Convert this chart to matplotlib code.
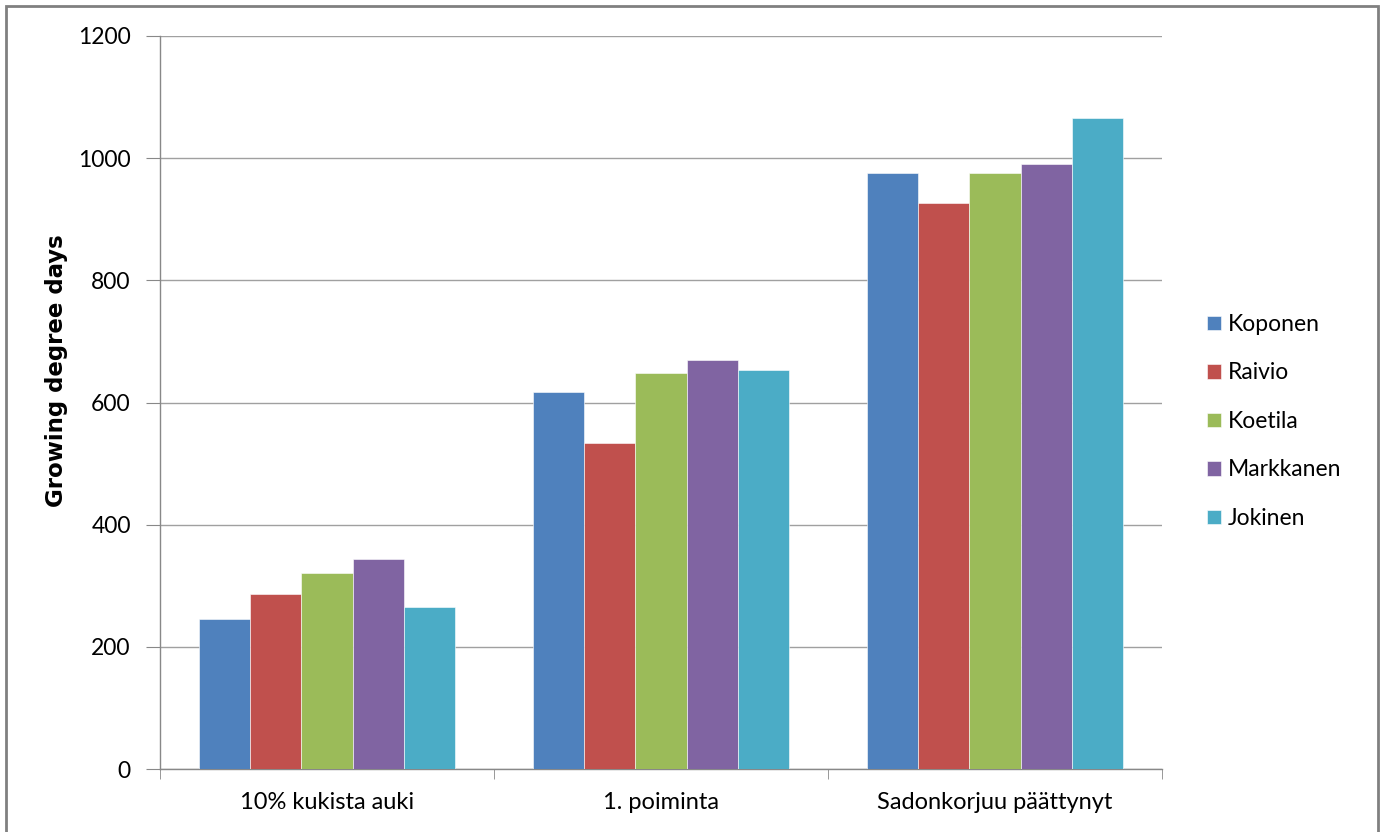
import matplotlib
matplotlib.use("Agg")
import matplotlib.pyplot as plt
import numpy as np
from matplotlib.patches import Rectangle

categories = ["10% kukista auki", "1. poiminta", "Sadonkorjuu päättynyt"]
series_names = ["Koponen", "Raivio", "Koetila", "Markkanen", "Jokinen"]
koponen = [245, 617, 976]
raivio = [286, 533, 926]
koetila = [321, 648, 976]
markkanen = [344, 669, 990]
jokinen = [266, 654, 1066]
colors = ["#4F81BD", "#C0504D", "#9BBB59", "#8064A2", "#4BACC6"]
yticks = [0, 200, 400, 600, 800, 1000, 1200]

plt.rcParams['font.family'] = ['Lato', 'DejaVu Sans']

fig = plt.figure(figsize=(13.84, 8.32), dpi=100)
ax = fig.add_axes([160/1384, 1-769/832, (1162-160)/1384, (769-36)/832])

series = [koponen, raivio, koetila, markkanen, jokinen]
n = len(series)
bw = 1.0 / (n + 1.5)
x = np.arange(len(categories))
handles = []
for i, (vals, c, name) in enumerate(zip(series, colors, series_names)):
    offs = (i - (n - 1) / 2) * bw
    b = ax.bar(x + offs, vals, width=bw, color=c, edgecolor='white', linewidth=0.4,
               label=name, zorder=3)
    handles.append(b)

ax.set_xlim(-0.5, len(categories) - 0.5)
ax.set_ylim(0, 1200)
ax.set_yticks(yticks)
ax.set_yticklabels([str(v) for v in yticks])
ax.yaxis.grid(True, color='#A0A0A0', linewidth=1.0, zorder=0)
ax.set_axisbelow(True)

ax.set_xticks(x)
ax.set_xticklabels(categories)
ax.set_xticks(np.arange(len(categories) + 1) - 0.5, minor=True)
ax.tick_params(axis='x', which='major', length=0, pad=16.5, labelsize=17)
ax.tick_params(axis='x', which='minor', length=7, color='#888888', direction='out')
ax.tick_params(axis='y', length=10, color='#888888', direction='out', pad=11, labelsize=16.5)

for s in ['top', 'right']:
    ax.spines[s].set_visible(False)
for s in ['left', 'bottom']:
    ax.spines[s].set_color('#888888')
    ax.spines[s].set_linewidth(1.0)

fig.text(57/1384, 1-371/832, "Growing degree days", rotation=90, ha='center', va='center',
         fontsize=16.5, fontweight='bold', family=['DejaVu Sans'])

leg = fig.legend(handles=handles, labels=series_names, loc='center left',
                 bbox_to_anchor=(1207/1384, 1-421.5/832), frameon=False,
                 fontsize=16.5, handlelength=0.6, handleheight=0.6,
                 handletextpad=0.3, labelspacing=1.2, borderaxespad=0, borderpad=0)

fig.patches.append(Rectangle((6/1384, -0.01), 1 - 12/1384, 1 - 6/832 + 0.01,
                             transform=fig.transFigure, fill=False,
                             edgecolor='#808080', linewidth=2))

fig.savefig("out.png", dpi=100)
